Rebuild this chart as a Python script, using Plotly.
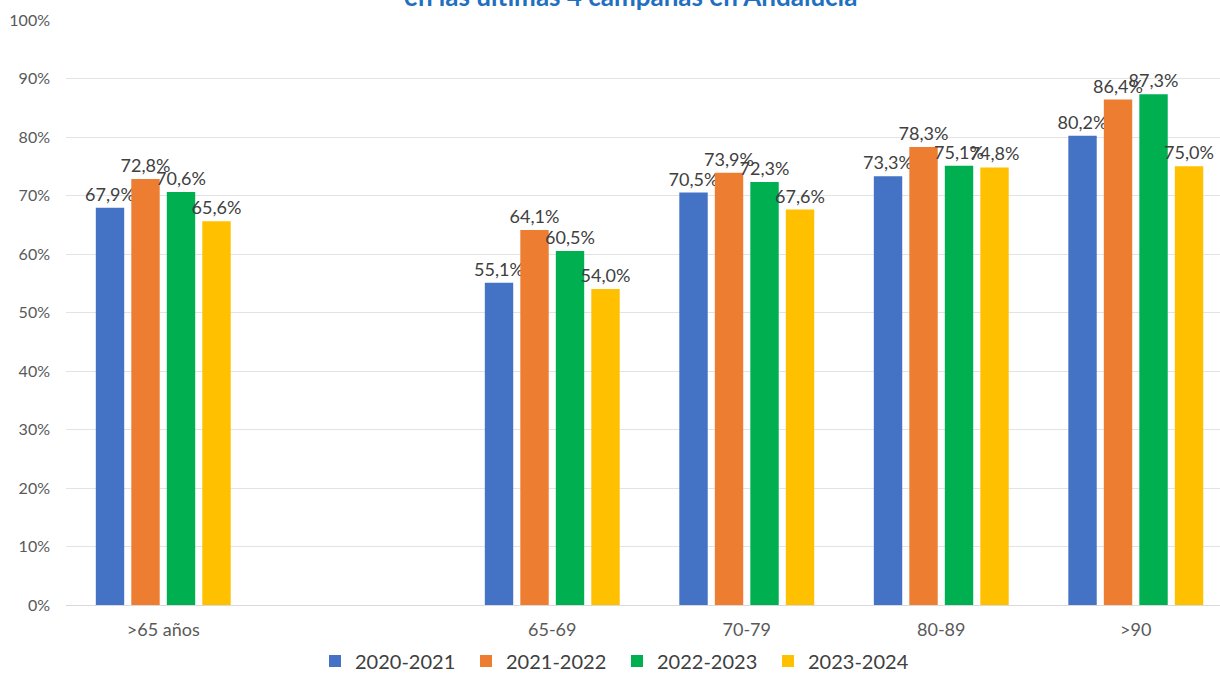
import plotly.graph_objects as go

categories = [">65 años", "", "65-69", "70-79", "80-89", ">90"]
positions = [0, 2, 3, 4, 5]  # slot index of each group with data (slot 1 is empty)
series_names = ["2020-2021", "2021-2022", "2022-2023", "2023-2024"]
s2020 = [67.9, 55.1, 70.5, 73.3, 80.2]
s2021 = [72.8, 64.1, 73.9, 78.3, 86.4]
s2022 = [70.6, 60.5, 72.3, 75.1, 87.3]
s2023 = [65.6, 54.0, 67.6, 74.8, 75.0]
colors = ["#4472C4", "#ED7D31", "#00B050", "#FFC000"]
title_text = "en las últimas 4 campañas en Andalucía"

FONT = "Lato, 'Open Sans', sans-serif"

fig = go.Figure()
for name, vals, col in zip(series_names, [s2020, s2021, s2022, s2023], colors):
    fig.add_trace(go.Bar(
        x=positions, y=vals, name=name, marker_color=col,
        marker_line_width=0,
        text=[f"{v:.1f}".replace(".", ",") + "%" for v in vals],
        textposition="outside", cliponaxis=False, constraintext="none",
        textfont=dict(size=18, color="#404040", family=FONT),
    ))

fig.update_layout(
    width=1220, height=673,
    paper_bgcolor="white", plot_bgcolor="white",
    margin=dict(l=66, r=0, t=20, b=68, autoexpand=False),
    barmode="group", bargap=0.27, bargroupgap=0.2,
    font=dict(family=FONT, color="#595959"),
    showlegend=True,
    legend=dict(orientation="h", xref="paper", yref="paper",
                x=(617 - 66) / (1220 - 66), xanchor="center",
                y=(605 - 661) / 585, yanchor="middle",
                entrywidth=106,
                font=dict(size=20, color="#404040", family=FONT),
                itemclick=False, traceorder="normal"),
    xaxis=dict(range=[-0.5, 5.433], tickmode="array", automargin=False,
               tickvals=list(range(len(categories))), ticktext=categories,
               showgrid=False, zeroline=False, showline=False,
               ticks="", tickfont=dict(size=18, color="#595959"),
               ticklabelstandoff=12),
    yaxis=dict(range=[0, 100], dtick=10, ticksuffix="%", automargin=False,
               showgrid=True, gridcolor="#E3E3E3", gridwidth=1,
               zeroline=True, zerolinecolor="#D9D9D9", zerolinewidth=1,
               ticks="", tickfont=dict(size=16, color="#595959"),
               ticklabelstandoff=15),
)

fig.add_annotation(text=f"<b>{title_text}</b>", xref="paper", yref="paper",
                   x=(630 - 66) / (1220 - 66), y=(605 + 4) / 585,
                   xanchor="center", yanchor="middle", showarrow=False,
                   font=dict(size=26, color="#1F70C1", family=FONT))

fig.write_html("out.html", config={"displayModeBar": False},
               post_script="document.body.style.margin='0';")
